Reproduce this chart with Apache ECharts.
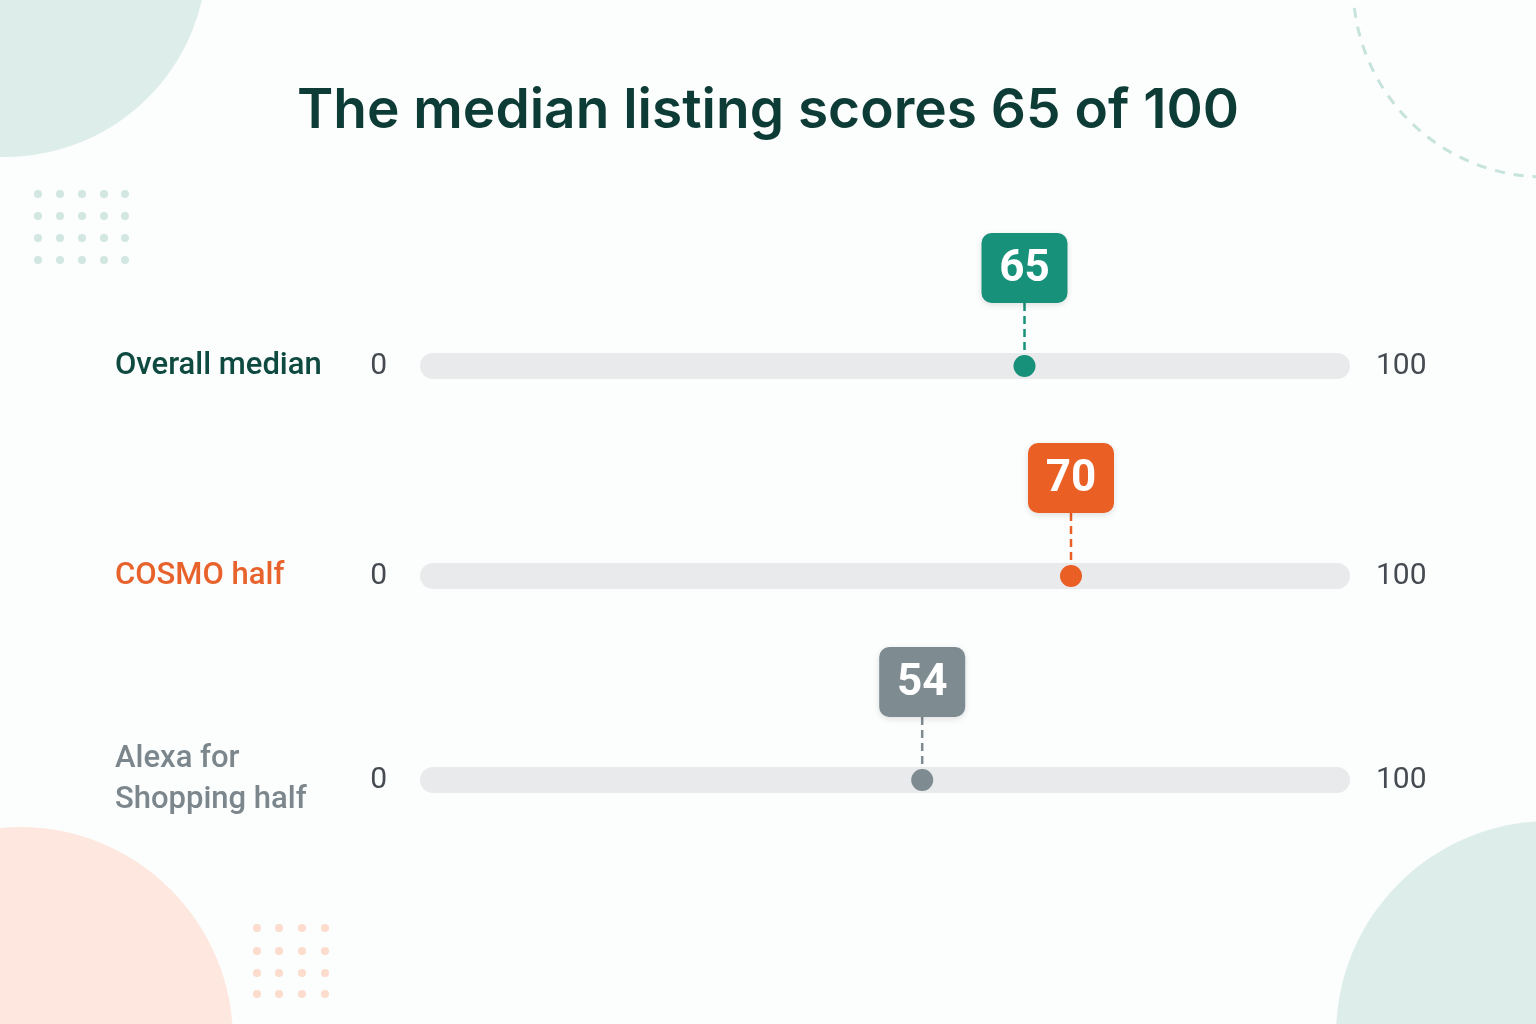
<!DOCTYPE html>
<html>
<head>
<meta charset="utf-8">
<title>Median listing score</title>
<script src="https://cdn.jsdelivr.net/npm/echarts/dist/echarts.min.js"></script>
<style>
  html, body { margin: 0; padding: 0; background: #fcfdfd; }
  #chart { width: 1536px; height: 1024px; }
</style>
</head>
<body>
<div id="chart"></div>
<script>
// data
var rowNames = ['Overall median', 'COSMO half', 'Alexa for\nShopping half'];
var rowScores = [65, 70, 54];
var scaleTicks = ['0', '100'];
var scaleMax = 100;

var rowColors = ['#17917a', '#ea5f24', '#7e8b91'];
var labelColors = ['#0e4a40', '#e8622c', '#7b878d'];
var rowCenters = [366, 576, 780];

var chart = echarts.init(document.getElementById('chart'));

function makeMarker(color) {
  return function (params, api) {
    var v = api.value(0);
    var p = api.coord([v, 0]);
    var gap = 63, bw = 86, bh = 70;
    return {
      type: 'group',
      children: [
        {
          type: 'line',
          shape: { x1: p[0], y1: p[1] - gap, x2: p[0], y2: p[1] },
          style: { stroke: color, lineWidth: 2.5, lineDash: [8, 5] }
        },
        {
          type: 'rect',
          shape: { x: p[0] - bw / 2, y: p[1] - gap - bh, width: bw, height: bh, r: 10 },
          style: { fill: color, shadowBlur: 6, shadowColor: 'rgba(0,0,0,0.12)', shadowOffsetY: 2 }
        },
        {
          type: 'text',
          style: {
            text: String(v),
            x: p[0], y: p[1] - gap - bh / 2 + 2,
            align: 'center', verticalAlign: 'middle',
            fill: '#ffffff',
            font: 'bold 44px Roboto, "Noto Sans", sans-serif'
          }
        },
        {
          type: 'circle',
          shape: { cx: p[0], cy: p[1], r: 11 },
          style: { fill: color }
        }
      ]
    };
  };
}

var grids = [], xAxes = [], yAxes = [], series = [];
rowNames.forEach(function (name, i) {
  var multi = name.indexOf('\n') >= 0;
  grids.push({ left: 420, right: 186, top: rowCenters[i] - 20, height: 40 });
  xAxes.push({ type: 'value', gridIndex: i, min: 0, max: scaleMax, show: false });
  yAxes.push({
    type: 'category', gridIndex: i, position: 'left', data: [scaleTicks[0]],
    axisLine: { show: false }, axisTick: { show: false },
    axisLabel: { margin: 33, fontSize: 30, color: '#454b50', fontFamily: 'Roboto, sans-serif', padding: [6, 0, 0, 0] },
    name: name, nameLocation: 'middle', nameRotate: 0, nameGap: 305,
    nameTextStyle: {
      align: 'left', verticalAlign: 'middle',
      fontSize: 31, fontWeight: 500, lineHeight: 41,
      color: labelColors[i], fontFamily: 'Roboto, sans-serif',
      padding: multi ? [0, 0, 64, 0] : [6, 0, 0, 0]
    }
  });
  yAxes.push({
    type: 'category', gridIndex: i, position: 'right', data: [scaleTicks[1]],
    axisLine: { show: false }, axisTick: { show: false },
    axisLabel: { margin: 26, fontSize: 30, color: '#454b50', fontFamily: 'Roboto, sans-serif', padding: [6, 0, 0, 0] }
  });
  series.push({
    type: 'bar', xAxisIndex: i, yAxisIndex: i * 2, silent: true,
    data: [scaleMax], barWidth: 26,
    itemStyle: { color: '#e8eaec', borderRadius: 13 }
  });
  series.push({
    type: 'custom', xAxisIndex: i, yAxisIndex: i * 2, silent: true,
    renderItem: makeMarker(rowColors[i]),
    data: [[rowScores[i], 0]],
    z: 5
  });
});

// decorative background shapes
var decor = [
  { type: 'circle', shape: { cx: 5, cy: -45, r: 202 }, style: { fill: '#dcedea' }, z: -10 },
  { type: 'circle', shape: { cx: 20, cy: 1040, r: 213 }, style: { fill: '#fde7de' }, z: -10 },
  { type: 'circle', shape: { cx: 1550, cy: 1035, r: 214 }, style: { fill: '#dcedea' }, z: -10 },
  { type: 'circle', shape: { cx: 1545, cy: -15, r: 192 },
    style: { fill: 'none', stroke: '#c6e3dc', lineWidth: 3, lineDash: [10, 9] }, z: -10 }
];
[38, 60, 82, 104, 125].forEach(function (x) {
  [194, 216, 238, 260].forEach(function (y) {
    decor.push({ type: 'circle', shape: { cx: x, cy: y, r: 4 }, style: { fill: '#d2e7e2' }, z: -10 });
  });
});
[257, 279, 302, 325].forEach(function (x) {
  [928, 951, 973, 994].forEach(function (y) {
    decor.push({ type: 'circle', shape: { cx: x, cy: y, r: 4 }, style: { fill: '#fcdccc' }, z: -10 });
  });
});

chart.setOption({
  backgroundColor: '#fcfdfd',
  animation: false,
  title: {
    text: 'The median listing scores 65 of 100',
    left: 'center', top: 79,
    textStyle: { fontSize: 55, fontWeight: 600, color: '#0d3b36', fontFamily: 'Inter, sans-serif' }
  },
  grid: grids,
  xAxis: xAxes,
  yAxis: yAxes,
  series: series,
  graphic: decor
});
</script>
</body>
</html>
